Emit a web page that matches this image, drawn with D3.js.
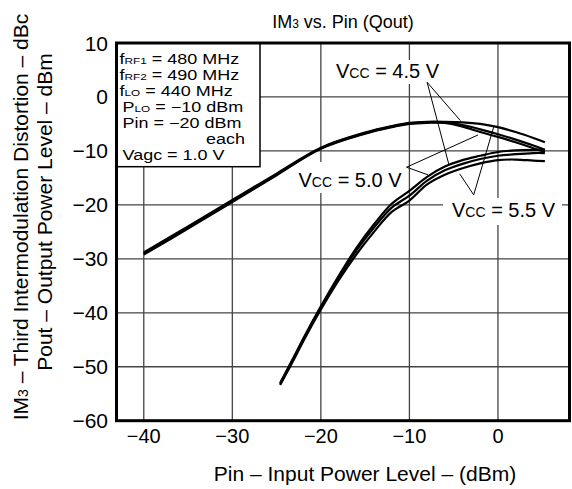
<!DOCTYPE html>
<html><head><meta charset="utf-8">
<script src="https://cdn.jsdelivr.net/npm/d3@7"></script>
<style>
html,body{margin:0;padding:0;background:#fff;}
svg{display:block;font-family:"Liberation Sans",Arial,Helvetica,sans-serif;}
</style></head>
<body>
<svg id="chart" width="572" height="489"></svg>
<script>
// ---- data ----
const xTicks = [-40, -30, -20, -10, 0];
const yTicks = [10, 0, -10, -20, -30, -40, -50, -60];

const poutX  = [-40, -35, -30, -25, -20, -15, -12, -10, -8, -6, -4, -2, 0, 2, 4, 5.3];
const pout45 = [-29.2, -24.4, -19.5, -14.5, -9.6, -6.8, -5.6, -5.0, -4.8, -4.8, -5.5, -6.5, -7.4, -8.4, -9.5, -10.2];
const pout50 = [-29.0, -24.2, -19.3, -14.4, -9.5, -6.7, -5.5, -4.9, -4.7, -4.7, -5.2, -6.0, -6.9, -7.9, -9.0, -9.8];
const pout55 = [-28.8, -24.0, -19.1, -14.2, -9.4, -6.6, -5.4, -4.8, -4.6, -4.6, -4.7, -5.0, -5.6, -6.5, -7.6, -8.4];

const imX  = [-24.6, -23, -22, -20, -18, -16, -14, -12, -10, -8, -6, -4, -2, 0, 2, 4, 5.3];
const im45 = [-53.0, -48.0, -44.8, -38.8, -33.2, -28.0, -23.6, -19.8, -17.4, -14.8, -12.9, -11.7, -10.9, -10.2, -9.9, -9.8, -9.8];
const im50 = [-53.2, -48.2, -45.0, -39.0, -33.5, -28.5, -24.2, -20.5, -18.3, -15.5, -13.6, -12.4, -11.5, -10.9, -10.6, -10.4, -10.4];
const im55 = [-53.4, -48.5, -45.3, -39.4, -34.0, -29.2, -25.0, -21.3, -19.2, -16.2, -14.4, -13.2, -12.3, -11.7, -11.6, -11.8, -11.9];

const legendLines = [
  [["f",""],["RF1","s"],[" = 480 MHz",""]],
  [["f",""],["RF2","s"],[" = 490 MHz",""]],
  [["f",""],["LO","s"],[" = 440 MHz",""]],
  [["P",""],["LO","s"],[" = \u221210 dBm",""]],
  [["Pin = \u221220 dBm",""]],
  [["each","r"]],
  [["Vagc = 1.0 V",""]]
];

// annotation: label, vertex [x,y], pointer ends (data units)
const annotations = [
  {v: "4.5 V", vertex: [-8.0, 2.72], ends: [[-4.24, -4.39], [-5.55, -12.46]]},
  {v: "5.0 V", vertex: [-10.32, -13.02], ends: [[-2.25, -7.04], [-7.89, -14.44]]},
  {v: "5.5 V", vertex: [-2.74, -18.15], ends: [[-0.49, -5.61], [-4.32, -14.26]]}
];

// ---- layout ----
const L = 116.5, R = 569.5, T = 43, B = 420.7;
const x = d3.scaleLinear().domain([-43.08, 8.08]).range([L, R]);
const y = d3.scaleLinear().domain([-60, 10]).range([B, T]);

const svg = d3.select("#chart");

// grid
const g = svg.append("g");
g.selectAll("line.vx").data(xTicks).enter().append("line")
  .attr("x1", d => x(d)).attr("x2", d => x(d)).attr("y1", T).attr("y2", B)
  .attr("stroke", "#444").attr("stroke-width", 1.3);
g.selectAll("line.hy").data(yTicks.filter(d => d > -60 && d < 10)).enter().append("line")
  .attr("x1", L).attr("x2", R).attr("y1", d => y(d)).attr("y2", d => y(d))
  .attr("stroke", "#444").attr("stroke-width", 1.3);

// label background boxes
const boxes = [
  [332, 60, 112, 24],
  [295, 162, 110, 31],
  [443, 198, 119, 27]
];
svg.selectAll("rect.bg").data(boxes).enter().append("rect")
  .attr("x", d => d[0]).attr("y", d => d[1]).attr("width", d => d[2]).attr("height", d => d[3])
  .attr("fill", "#fff");

// curves
const line = d3.line().x(d => x(d[0])).y(d => y(d[1])).curve(d3.curveCatmullRom.alpha(0.5));
const series = [
  [poutX, pout45], [poutX, pout50], [poutX, pout55],
  [imX, im45], [imX, im50], [imX, im55]
];
svg.selectAll("path.curve").data(series).enter().append("path")
  .attr("d", s => line(s[0].map((xv, i) => [xv, s[1][i]])))
  .attr("fill", "none").attr("stroke", "#000").attr("stroke-width", 2.2);

// legend box
svg.append("rect").attr("x", L).attr("y", T).attr("width", 260 - L).attr("height", 166.7 - T)
  .attr("fill", "#fff").attr("stroke", "#000").attr("stroke-width", 1.5);
const sx = 1.24;
const lg = svg.append("g").attr("font-size", 14.5).attr("transform", `scale(${sx},1)`);
legendLines.forEach((parts, i) => {
  const by = 64 + i * 16;
  const right = parts[0][1] === "r";
  const px = right ? 245 : (parts[0][0].startsWith("f") ? 119.5 : 122.5);
  const t = lg.append("text").attr("y", by)
    .attr("x", px / sx)
    .attr("text-anchor", right ? "end" : "start");
  parts.forEach(p => {
    const ts = t.append("tspan").text(p[0]);
    if (p[1] === "s") ts.attr("font-size", 9.5);
  });
});

// frame
svg.append("rect").attr("x", L).attr("y", T).attr("width", R - L).attr("height", B - T)
  .attr("fill", "none").attr("stroke", "#000").attr("stroke-width", 3);

// annotation lines
annotations.forEach(a => {
  a.ends.forEach(e => {
    svg.append("line")
      .attr("x1", x(a.vertex[0])).attr("y1", y(a.vertex[1]))
      .attr("x2", x(e[0])).attr("y2", y(e[1]))
      .attr("stroke", "#000").attr("stroke-width", 1);
  });
});
const labelPos = [[336, 78], [298.5, 187], [452, 217]];
annotations.forEach((a, i) => {
  const t = svg.append("text").attr("x", labelPos[i][0]).attr("y", labelPos[i][1]).attr("font-size", 20);
  t.append("tspan").text("V");
  t.append("tspan").attr("font-size", 14).text("CC");
  t.append("tspan").text(" = " + a.v);
});

// tick labels
svg.selectAll("text.xt").data(xTicks).enter().append("text")
  .attr("x", d => x(d)).attr("y", 443).attr("text-anchor", "middle").attr("font-size", 20)
  .text(d => d < 0 ? "\u2212" + Math.abs(d) : String(d));
svg.selectAll("text.yt").data(yTicks).enter().append("text")
  .attr("x", 108).attr("y", d => y(d) + 7.5).attr("text-anchor", "end").attr("font-size", 21)
  .text(d => d < 0 ? "\u2212" + Math.abs(d) : String(d));

// title
const tt = svg.append("text").attr("x", 343).attr("y", 28).attr("text-anchor", "middle").attr("font-size", 18);
tt.append("tspan").text("IM");
tt.append("tspan").attr("font-size", 12).text("3");
tt.append("tspan").text(" vs. Pin (Qout)");

// x axis title
svg.append("text").attr("x", 365).attr("y", 481).attr("text-anchor", "middle").attr("font-size", 21)
  .text("Pin \u2013 Input Power Level \u2013 (dBm)");

// y axis titles
const y1 = svg.append("text").attr("transform", "translate(28,217) rotate(-90)")
  .attr("text-anchor", "middle").attr("font-size", 21);
y1.append("tspan").text("IM");
y1.append("tspan").attr("font-size", 14).text("3");
y1.append("tspan").text(" \u2013 Third Intermodulation Distortion \u2013 dBc");
svg.append("text").attr("transform", "translate(52,212) rotate(-90)")
  .attr("text-anchor", "middle").attr("font-size", 21)
  .text("Pout \u2013 Output Power Level \u2013 dBm");
</script>
</body></html>
